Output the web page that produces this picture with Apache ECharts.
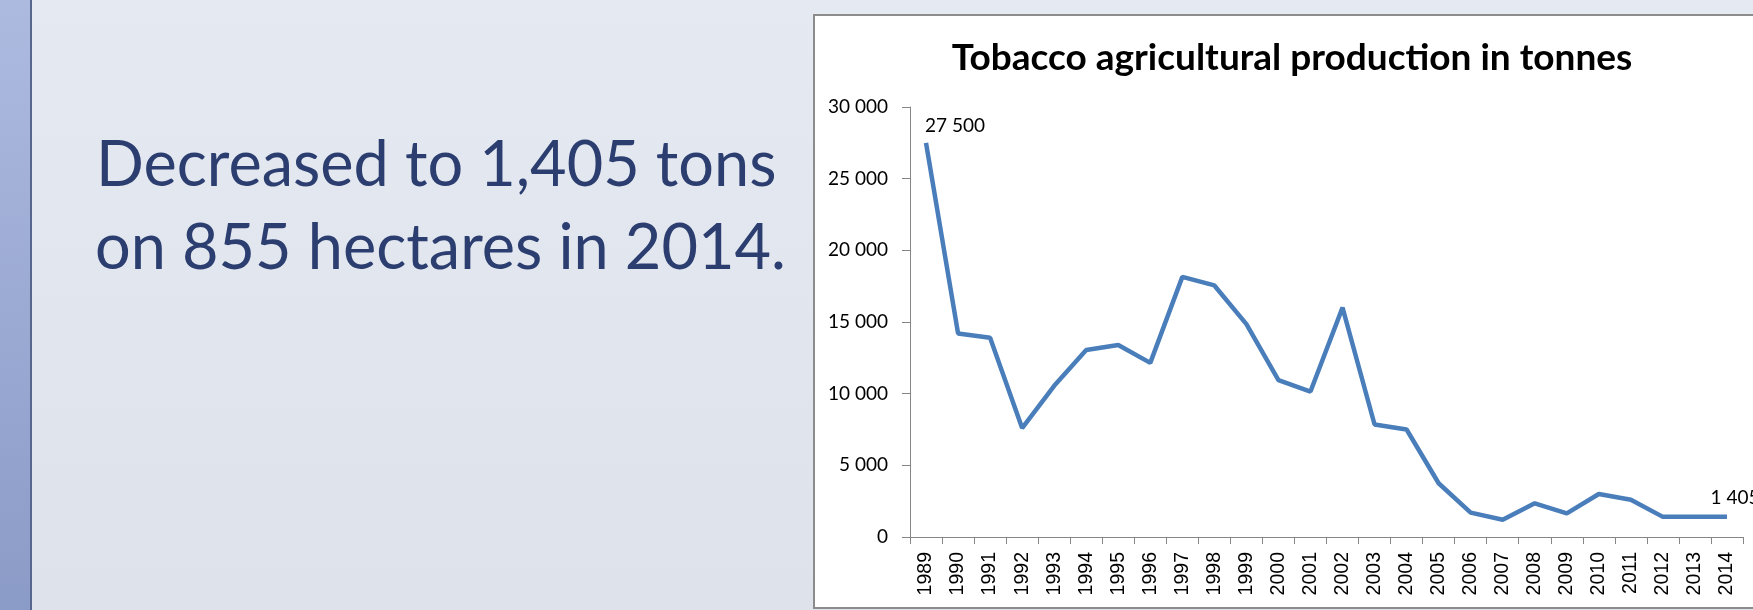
<!DOCTYPE html>
<html>
<head>
<meta charset="utf-8">
<title>Tobacco agricultural production in tonnes</title>
<script src="https://cdn.jsdelivr.net/npm/echarts@6/dist/echarts.min.js"></script>
<style>
  html, body { margin: 0; padding: 0; background: #e2e6ef; }
  #chart { width: 1753px; height: 610px; }
</style>
</head>
<body>
<div id="chart"></div>
<script>
// Years on the category axis
const years = ['1989','1990','1991','1992','1993','1994','1995','1996','1997','1998','1999','2000','2001',
               '2002','2003','2004','2005','2006','2007','2008','2009','2010','2011','2012','2013','2014'];

// Tobacco production, tonnes
const production = [27500, 14200, 13900, 7600, 10550, 13050, 13400, 12150, 18150, 17550, 14850, 10950, 10150,
                    16000, 7850, 7500, 3750, 1700, 1200, 2350, 1650, 3000, 2600, 1405, 1405, 1405];

// Value-axis range and step
const yMin = 0;
const yMax = 30000;
const yStep = 5000;

// Text blocks
const chartTitle = 'Tobacco agricultural production in tonnes';
const summaryLines = ['Decreased to 1,405 tons', 'on 855 hectares in 2014.'];

// Thousands grouped with a space: 27500 -> "27 500"
function fmt(v) {
  return String(Math.round(v)).replace(/\B(?=(\d{3})+(?!\d))/g, ' ');
}

const lastIdx = production.length - 1;
const seriesData = production.map(function (v, i) {
  if (i === 0) {
    return { value: v, label: { show: true, position: 'top', align: 'left', distance: 6, offset: [-1, 0] } };
  }
  if (i === lastIdx) {
    return { value: v, label: { show: true, position: 'top', align: 'center', distance: 8, offset: [8, 0] } };
  }
  return v;
});

const chart = echarts.init(document.getElementById('chart'), null, { renderer: 'canvas' });

chart.setOption({
  animation: false,
  backgroundColor: {
    type: 'linear', x: 0, y: 0, x2: 0, y2: 1,
    colorStops: [{ offset: 0, color: '#e5e9f2' }, { offset: 1, color: '#dee2eb' }]
  },
  graphic: [
    // side bar on the left edge
    {
      type: 'rect', z: -100,
      shape: { x: 0, y: 0, width: 30, height: 610 },
      style: {
        fill: {
          type: 'linear', x: 0, y: 0, x2: 0, y2: 1,
          colorStops: [{ offset: 0, color: '#adbae0' }, { offset: 1, color: '#8b9bc7' }]
        }
      }
    },
    {
      type: 'rect', z: -100,
      shape: { x: 30, y: 0, width: 2, height: 610 },
      style: { fill: '#56668c' }
    },
    // white chart panel
    {
      type: 'rect', z: -100,
      shape: { x: 814, y: 15, width: 1000, height: 593 },
      style: { fill: '#ffffff', stroke: '#8c8c8c', lineWidth: 2 }
    },
    // summary text
    {
      type: 'text', z: 100, x: 96, y: 166,
      style: {
        text: summaryLines[0], fill: '#2b3e6f',
        font: '63px Lato', textAlign: 'left', textVerticalAlign: 'middle'
      }
    },
    {
      type: 'text', z: 100, x: 95, y: 249,
      style: {
        text: summaryLines[1], fill: '#2b3e6f',
        font: '63px Lato', textAlign: 'left', textVerticalAlign: 'middle'
      }
    },
    // chart title
    {
      type: 'text', z: 100, x: 1292, y: 58,
      style: {
        text: chartTitle, fill: '#000000',
        font: 'bold 37px Lato', textAlign: 'center', textVerticalAlign: 'middle'
      }
    }
  ],
  grid: { left: 910, top: 107, width: 833, height: 430, containLabel: false },
  xAxis: {
    type: 'category',
    data: years,
    boundaryGap: true,
    axisLine: { show: true, lineStyle: { color: '#868686', width: 1 } },
    axisTick: { show: true, interval: 0, length: 7, lineStyle: { color: '#868686' } },
    axisLabel: {
      interval: 0, rotate: 90, margin: 15,
      fontFamily: 'Liberation Sans', fontSize: 19.5, color: '#000000'
    },
    splitLine: { show: false }
  },
  yAxis: {
    type: 'value',
    min: yMin, max: yMax, interval: yStep,
    axisLine: { show: true, lineStyle: { color: '#868686', width: 1 } },
    axisTick: { show: true, length: 8, lineStyle: { color: '#868686' } },
    axisLabel: {
      margin: 22, fontFamily: 'Lato', fontSize: 19, color: '#000000',
      formatter: function (v) { return fmt(v); }
    },
    splitLine: { show: false }
  },
  series: [{
    type: 'line',
    data: seriesData,
    symbol: 'circle',
    symbolSize: 2,
    showSymbol: true,
    showAllSymbol: true,
    lineStyle: { color: '#4a7ebb', width: 4.5 },
    itemStyle: { color: 'rgba(74,126,187,0)', borderWidth: 0 },
    label: {
      show: false,
      fontFamily: 'Lato', fontSize: 19, color: '#000000',
      formatter: function (p) { return fmt(p.value); }
    },
    z: 3
  }]
});
</script>
</body>
</html>
